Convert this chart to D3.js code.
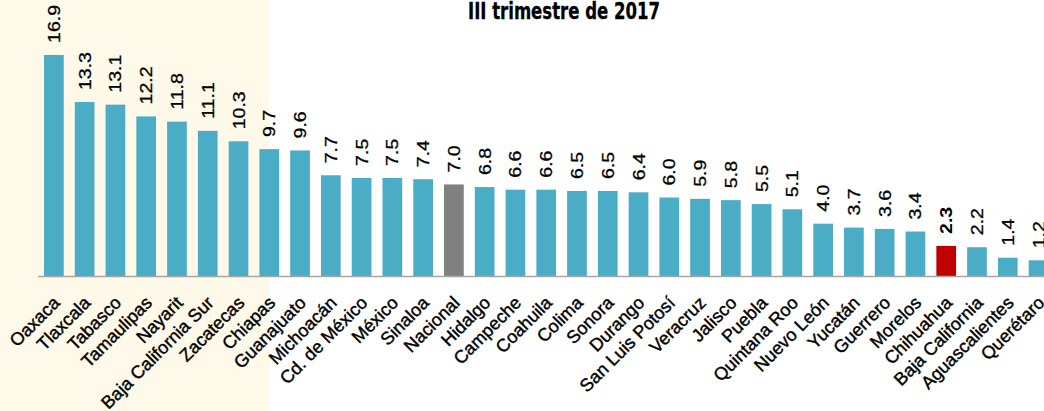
<!DOCTYPE html>
<html>
<head>
<meta charset="utf-8">
<script src="https://cdn.jsdelivr.net/npm/d3@7"></script>
<style>
  body { margin: 0; background: #fff; }
  svg { display: block; }
</style>
</head>
<body>
<div id="chart"></div>
<script>
var states = ["Oaxaca", "Tlaxcala", "Tabasco", "Tamaulipas", "Nayarit", "Baja California Sur", "Zacatecas", "Chiapas",
  "Guanajuato", "Michoacán", "Cd. de México", "México", "Sinaloa", "Nacional", "Hidalgo", "Campeche", "Coahuila",
  "Colima", "Sonora", "Durango", "San Luis Potosí", "Veracruz", "Jalisco", "Puebla", "Quintana Roo", "Nuevo León",
  "Yucatán", "Guerrero", "Morelos", "Chihuahua", "Baja California", "Aguascalientes", "Querétaro"]
var values = [16.9, 13.3, 13.1, 12.2, 11.8, 11.1, 10.3, 9.7, 9.6, 7.7, 7.5, 7.5, 7.4, 7.0, 6.8, 6.6, 6.6,
  6.5, 6.5, 6.4, 6.0, 5.9, 5.8, 5.5, 5.1, 4.0, 3.7, 3.6, 3.4, 2.3, 2.2, 1.4, 1.2]
var title = "III trimestre de 2017"

var data = states.map(function(s, i) { return {state: s, value: values[i]} })

var width = 1044, height = 411

var svg = d3.select("#chart").append("svg")
  .attr("width", width)
  .attr("height", height)

// cream band behind the top states
svg.append("rect")
  .attr("x", 0).attr("y", 0)
  .attr("width", 269).attr("height", height)
  .attr("fill", "#fef9e8")

var x = d3.scaleBand().domain(states).range([38.5, 38.5 + 33 * 30.77]).paddingInner(0.36).paddingOuter(0.18)
var y = d3.scaleLinear().domain([0, 17]).range([276, 276 - 17 * 13.08])

function barColor(d) {
  if (d.state == "Nacional") return "#808080"
  if (d.state == "Chihuahua") return "#c00000"
  return "#4bacc6"
}

svg.selectAll(".bar")
  .data(data)
  .enter()
  .append("rect")
  .attr("class", "bar")
  .attr("x", function(d) { return x(d.state) })
  .attr("y", function(d) { return y(d.value) })
  .attr("width", x.bandwidth())
  .attr("height", function(d) { return y(0) - y(d.value) })
  .attr("fill", barColor)

// baseline
svg.append("line")
  .attr("x1", 38).attr("x2", width)
  .attr("y1", y(0) + 0.5).attr("y2", y(0) + 0.5)
  .attr("stroke", "#a6a6a6")
  .attr("stroke-width", 1.5)

// value labels, rotated
svg.selectAll(".val")
  .data(data)
  .enter()
  .append("text")
  .attr("class", "val")
  .attr("transform", function(d) {
    return "translate(" + (x(d.state) + x.bandwidth() / 2 + 6) + "," + (y(d.value) - 12) + ") rotate(-90) scale(1.15,1)"
  })
  .style("font-family", "'Liberation Sans', Arial, sans-serif")
  .style("font-size", "17px")
  .style("font-weight", function(d) { return d.state == "Chihuahua" ? "bold" : "normal" })
  .attr("fill", "#000")
  .attr("stroke", "#000")
  .attr("stroke-width", function(d) { return d.state == "Chihuahua" ? 0 : 0.3 })
  .text(function(d) { return d.value.toFixed(1) })

// category labels at 45 degrees
svg.selectAll(".cat")
  .data(data)
  .enter()
  .append("text")
  .attr("class", "cat")
  .attr("transform", function(d) {
    return "translate(" + (x(d.state) + x.bandwidth() / 2 + 7) + "," + 304 + ") rotate(-45)"
  })
  .attr("text-anchor", "end")
  .style("font-family", "'Liberation Sans', Arial, sans-serif")
  .style("font-size", "18px")
  .attr("fill", "#000")
  .attr("stroke", "#000")
  .attr("stroke-width", 0.4)
  .text(function(d) { return d.state })

svg.append("text")
  .attr("x", 564).attr("y", 19)
  .attr("text-anchor", "middle")
  .attr("textLength", 192)
  .attr("lengthAdjust", "spacingAndGlyphs")
  .style("font-family", "'Liberation Sans Narrow', 'DejaVu Sans Condensed', sans-serif")
  .style("font-weight", "bold")
  .style("font-size", "23px")
  .attr("fill", "#000")
  .attr("stroke", "#000")
  .attr("stroke-width", 0.3)
  .text(title)
</script>
</body>
</html>
